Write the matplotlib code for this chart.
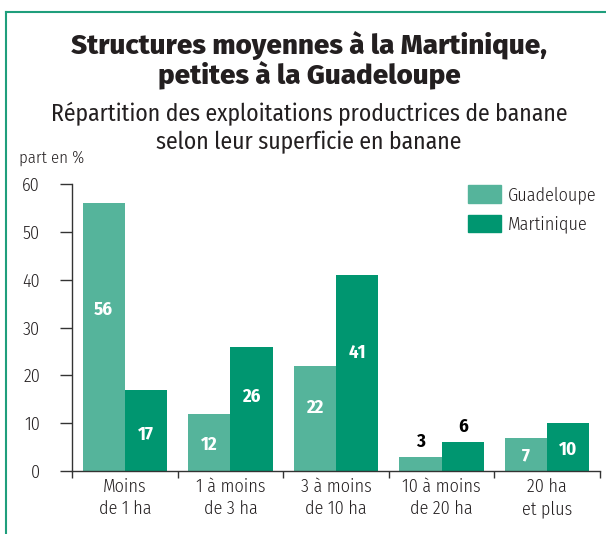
import numpy as np
import matplotlib.pyplot as plt
from matplotlib.lines import Line2D
from matplotlib.patches import Patch

categories = ["Moins\nde 1 ha", "1 à moins\nde 3 ha", "3 à moins\nde 10 ha",
              "10 à moins\nde 20 ha", "20 ha\net plus"]
guadeloupe = [56, 12, 22, 3, 7]
martinique = [17, 26, 41, 6, 10]
yticks = [0, 10, 20, 30, 40, 50, 60]

LIGHT = '#55b49b'
DARK = '#009670'
FRAME = '#1f9e7c'
TXT = '#231f20'
narrow = ['Fira Sans Condensed', 'DejaVu Sans']

plt.rcParams['font.family'] = narrow
plt.rcParams['font.weight'] = 300

fig = plt.figure(figsize=(6.06, 5.34), dpi=100)
ax = fig.add_axes([72 / 606, 1 - 471 / 534, 528 / 606, (471 - 184) / 534])

x = np.arange(len(categories))
w = 0.4
ax.bar(x - w / 2, guadeloupe, width=w, color=LIGHT, label='Guadeloupe')
ax.bar(x + w / 2, martinique, width=w, color=DARK, label='Martinique')

# value labels: inside the bar, or above it (in black) when the bar is too short
for xs, vals in ((x - w / 2, guadeloupe), (x + w / 2, martinique)):
    for xi, v in zip(xs, vals):
        if v < 7:
            ax.text(xi, v + 1.3, str(v), ha='center', va='bottom', color='black',
                    fontsize=13.5, fontweight=700)
        else:
            yy = v * 0.6 if v >= 20 else v * 0.45
            ax.text(xi, yy, str(v), ha='center', va='center', color='white',
                    fontsize=13.5, fontweight=700)

ax.set_xlim(-0.5, len(categories) - 0.5)
ax.set_ylim(0, 60)
ax.set_yticks(yticks)
ax.set_yticklabels([str(t) for t in yticks], fontsize=13, color=TXT)
ax.set_xticks(x)
ax.set_xticklabels(categories, fontsize=13, color=TXT, linespacing=1.3)
ax.set_xticks(np.arange(len(categories) + 1) - 0.5, minor=True)
ax.tick_params(axis='x', which='major', length=0, pad=5)
ax.tick_params(axis='x', which='minor', length=5, width=1, color='#333333', direction='out')
ax.tick_params(axis='y', length=9, width=1, color='#333333', pad=14)
for s in ('top', 'right'):
    ax.spines[s].set_visible(False)
for s in ('left', 'bottom'):
    ax.spines[s].set_color('#333333')
    ax.spines[s].set_linewidth(1)

fig.text(19 / 606, 1 - 158 / 534, 'part en %', ha='left', va='center',
         fontsize=12, color=TXT)

handles = [Patch(color=LIGHT), Patch(color=DARK)]
fig.legend(handles, ['Guadeloupe', 'Martinique'], loc='upper left',
           bbox_to_anchor=(468 / 606, 1 - 185 / 534), frameon=False, fontsize=13,
           borderpad=0, borderaxespad=0,
           handlelength=1.85, handleheight=1.15, handletextpad=0.35, labelspacing=0.6,
           labelcolor=TXT)

fig.text(0.5 + 6 / 606, 1 - 60 / 534, "Structures moyennes à la Martinique,\npetites à la Guadeloupe",
         ha='center', va='center', fontsize=20, fontweight=800, color=TXT,
         family=['Fira Sans', 'DejaVu Sans'], linespacing=1.0)
fig.text(0.5 + 6 / 606, 1 - 128 / 534,
         "Répartition des exploitations productrices de banane\nselon leur superficie en banane",
         ha='center', va='center', fontsize=17, fontweight=400, color=TXT, linespacing=1.25)

# frame lines (top and left)
fig.add_artist(Line2D([6 / 606, 1], [1 - 12 / 534] * 2, color=FRAME, lw=1.5))
fig.add_artist(Line2D([6 / 606] * 2, [0, 1 - 12 / 534], color=FRAME, lw=1.5))

fig.savefig('out.png', dpi=100)
